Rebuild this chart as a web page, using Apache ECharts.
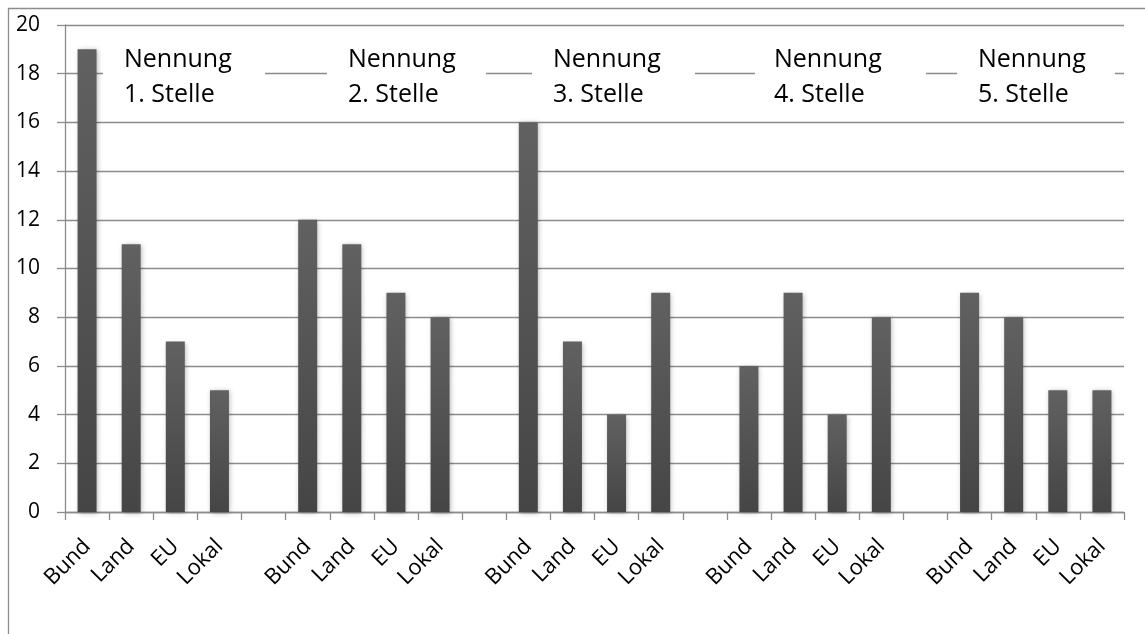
<!DOCTYPE html>
<html>
<head>
<meta charset="utf-8">
<script src="https://cdn.jsdelivr.net/npm/echarts@6/dist/echarts.min.js"></script>
<style>
  html, body { margin: 0; padding: 0; background: #fff; }
  #chart { width: 1145px; height: 634px; }
</style>
</head>
<body>
<div id="chart"></div>
<script>
// Categories per group; an empty slot separates the groups on the axis
const groupCats = ['Bund', 'Land', 'EU', 'Lokal'];
const groupNames = ['Nennung\n1. Stelle', 'Nennung\n2. Stelle', 'Nennung\n3. Stelle', 'Nennung\n4. Stelle', 'Nennung\n5. Stelle'];
const stelle1 = [19, 11, 7, 5];
const stelle2 = [12, 11, 9, 8];
const stelle3 = [16, 7, 4, 9];
const stelle4 = [6, 9, 4, 8];
const stelle5 = [9, 8, 5, 5];
const yTicks = [0, 2, 4, 6, 8, 10, 12, 14, 16, 18, 20];

const groups = [stelle1, stelle2, stelle3, stelle4, stelle5];
const categories = [];
const values = [];
groups.forEach((g, gi) => {
  if (gi > 0) { categories.push(''); values.push('-'); }
  g.forEach((v, i) => { categories.push(groupCats[i]); values.push(v); });
});

const FONT = '"Open Sans", sans-serif';
const chart = echarts.init(document.getElementById('chart'));

// Group heading boxes: [text left, box left, box right]
const heads = [[124, 103, 265], [348, 327, 486], [553, 532, 695], [774, 755, 926], [978, 957, 1115]];
const headGraphics = [];
heads.forEach((h, i) => {
  headGraphics.push({
    type: 'rect', z: 50,
    shape: { x: h[1], y: 34, width: h[2] - h[1], height: 82 },
    style: { fill: '#fff' }
  });
  headGraphics.push({
    type: 'text', z: 51, x: h[0], y: 42,
    style: { text: groupNames[i], font: '25px ' + FONT, fill: '#000', lineHeight: 35 }
  });
});

chart.setOption({
  animation: false,
  backgroundColor: '#fff',
  grid: { left: 65, right: 21, top: 25, bottom: 122 },
  xAxis: {
    type: 'category',
    data: categories,
    axisLine: { lineStyle: { color: '#8c8c8c', width: 1.3 } },
    axisTick: { show: true, length: 8, lineStyle: { color: '#8c8c8c', width: 1.3 } },
    axisLabel: { rotate: 45, interval: 0, margin: 31, fontSize: 22, color: '#000', fontFamily: FONT }
  },
  yAxis: {
    type: 'value',
    min: yTicks[0], max: yTicks[yTicks.length - 1], interval: 2,
    axisLine: { show: true, lineStyle: { color: '#8c8c8c', width: 1.3 } },
    axisTick: { show: true, length: 8, lineStyle: { color: '#8c8c8c', width: 1.3 } },
    splitLine: { lineStyle: { color: '#8c8c8c', width: 1.3 } },
    axisLabel: { margin: 25, fontSize: 21, color: '#000', fontFamily: FONT }
  },
  series: [{
    type: 'bar',
    data: values,
    barWidth: 19,
    itemStyle: {
      color: new echarts.graphic.LinearGradient(0, 0, 0, 1, [
        { offset: 0, color: '#616161' },
        { offset: 1, color: '#454545' }
      ]),
      shadowBlur: 5,
      shadowColor: 'rgba(0,0,0,0.3)',
      shadowOffsetX: 1,
      shadowOffsetY: 1
    }
  }],
  graphic: [
    {
      type: 'rect', z: 100, silent: true,
      shape: { x: 8.5, y: 8.5, width: 1200, height: 700 },
      style: { fill: 'none', stroke: '#8c8c8c', lineWidth: 1.3 }
    }
  ].concat(headGraphics)
});
</script>
</body>
</html>
